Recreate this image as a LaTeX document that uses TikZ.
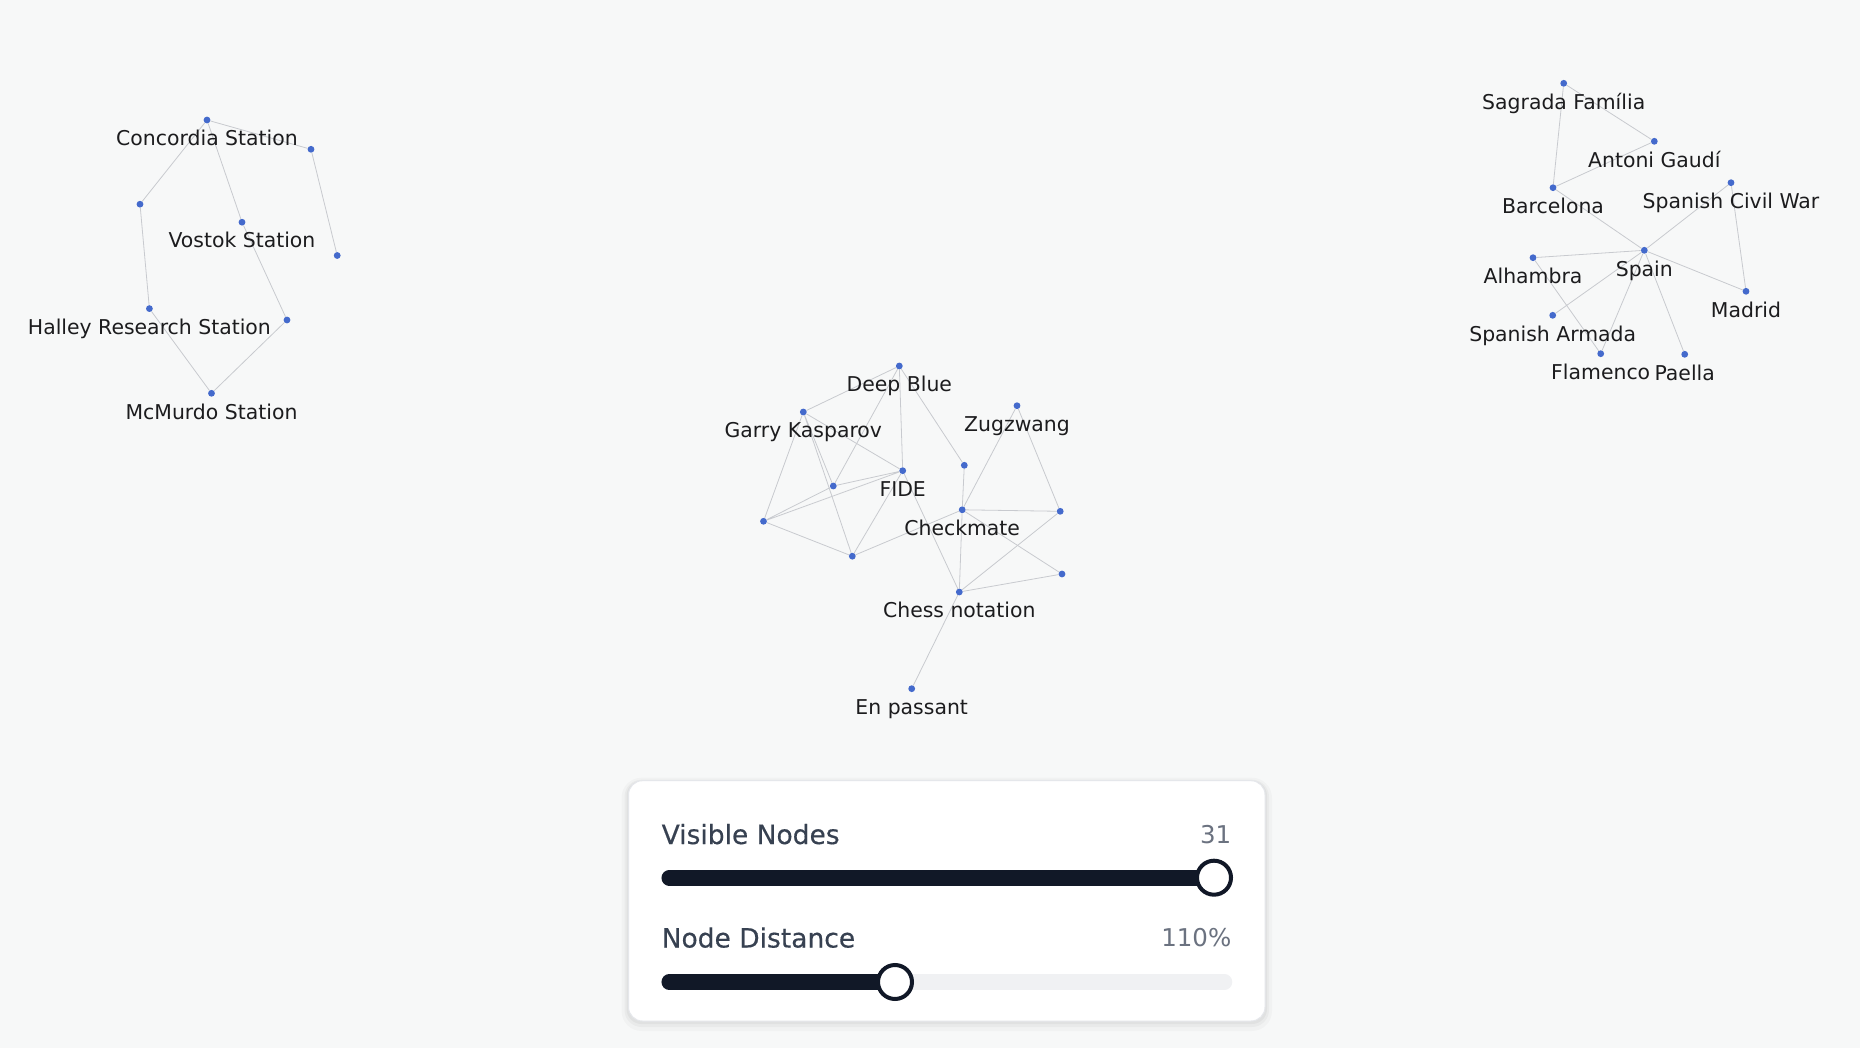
\documentclass[tikz,border=0pt]{standalone}
\usepackage{fontspec}
\setmainfont{DejaVu Sans}
\newfontfamily\panelfont[FakeBold=0.4]{DejaVu Sans}

\definecolor{pagebg}{RGB}{247,248,248}
\definecolor{dotblue}{RGB}{68,106,204}
\definecolor{edgegray}{RGB}{200,202,207}
\definecolor{labelblack}{RGB}{28,28,30}
\definecolor{panelline}{RGB}{229,231,235}
\definecolor{paneltext}{RGB}{55,65,81}
\definecolor{panelvalue}{RGB}{107,114,128}
\definecolor{trackdark}{RGB}{17,24,39}
\definecolor{tracklight}{RGB}{240,241,243}

\pgfdeclarelayer{bglayer}
\pgfdeclarelayer{edgelayer}
\pgfsetlayers{bglayer,edgelayer,main}

\tikzset{
  gdot/.style={circle, fill=dotblue, inner sep=0pt, minimum size=6.8pt, label distance=7pt},
  glabel/.style={text=labelblack, font=\fontsize{20.4}{24}\selectfont, inner sep=0pt, text height=22pt, text depth=5pt},
  gnode/.style={gdot, label={[glabel]below:#1}},
  link/.style={draw=edgegray, line width=0.8pt},
  paneltxt/.style={text=paneltext, font=\panelfont\fontsize{26.5}{30}\selectfont, inner sep=0pt},
  panelval/.style={text=panelvalue, font=\fontsize{24.5}{28}\selectfont, inner sep=0pt},
  trackon/.style={draw=trackdark, line width=15.5pt, line cap=round},
  trackoff/.style={draw=tracklight, line width=15.5pt, line cap=round},
  knob/.style={circle, draw=trackdark, fill=white, line width=4pt, minimum size=34pt, inner sep=0pt},
}

\begin{document}
\begin{tikzpicture}[x=1pt, y=-1pt]
    \useasboundingbox (0,0) rectangle (1860,1048);
    \begin{pgfonlayer}{bglayer}
        \fill[pagebg] (0,0) rectangle (1860,1048);
    \end{pgfonlayer}

    % Antarctic stations
    \node[gnode={Concordia Station}] (con) at (207,120) {};
    \node[gdot] (ant1) at (311,149.3) {};
    \node[gdot] (ant2) at (337.2,255.5) {};
    \node[gdot] (ant3) at (140,204.2) {};
    \node[gnode={Vostok Station}] (vos) at (242,222.2) {};
    \node[gnode={Halley Research Station}] (hal) at (149.4,308.6) {};
    \node[gdot] (ant4) at (287,320) {};
    \node[gnode={McMurdo Station}] (mcm) at (211.5,393.3) {};

    % Spain
    \node[gnode={Sagrada Família}] (sag) at (1563.7,83.3) {};
    \node[gnode={Antoni Gaudí}] (gau) at (1654.3,141.3) {};
    \node[gnode={Barcelona}] (bcn) at (1553,187.7) {};
    \node[gnode={Spanish Civil War}] (civ) at (1731,182.7) {};
    \node[gnode={Spain}] (spa) at (1644.3,250.3) {};
    \node[gnode={Alhambra}] (alh) at (1533,257.7) {};
    \node[gnode={Madrid}] (mad) at (1746,291.3) {};
    \node[gnode={Spanish Armada}] (arm) at (1552.7,315.3) {};
    \node[gnode={Flamenco}] (fla) at (1600.7,353.7) {};
    \node[gnode={Paella}] (pae) at (1684.7,354.3) {};

    % chess
    \node[gnode={Deep Blue}] (dbl) at (899.3,366) {};
    \node[gnode={Garry Kasparov}] (gka) at (803.3,412) {};
    \node[gnode={Zugzwang}] (zug) at (1017,405.7) {};
    \node[gnode={FIDE}] (fid) at (902.7,470.7) {};
    \node[gdot] (chs1) at (833.3,486) {};
    \node[gdot] (chs2) at (964.3,465.3) {};
    \node[gdot] (chs3) at (763.5,521.3) {};
    \node[gnode={Checkmate}] (chk) at (962.2,509.8) {};
    \node[gdot] (chs4) at (1060.2,511.3) {};
    \node[gdot] (chs5) at (852.3,556.2) {};
    \node[gdot] (chs6) at (1062,574) {};
    \node[gnode={Chess notation}] (cno) at (959.3,592) {};
    \node[gnode={En passant}] (enp) at (911.7,688.7) {};

    \begin{pgfonlayer}{edgelayer}
        \draw[link] (con) -- (ant1) (ant1) -- (ant2) (con) -- (ant3) (ant3) -- (hal);
        \draw[link] (con) -- (vos) (vos) -- (ant4) (ant4) -- (mcm) (hal) -- (mcm);

        \draw[link] (sag) -- (gau) (sag) -- (bcn) (gau) -- (bcn) (bcn) -- (spa);
        \draw[link] (spa) -- (civ) (civ) -- (mad) (spa) -- (mad) (spa) -- (alh);
        \draw[link] (alh) -- (fla) (spa) -- (arm) (spa) -- (fla) (spa) -- (pae);

        \draw[link] (dbl) -- (gka) (dbl) -- (chs1) (dbl) -- (fid) (dbl) -- (chs2);
        \draw[link] (gka) -- (fid) (gka) -- (chs3) (gka) -- (chs1) (gka) -- (chs5);
        \draw[link] (chs1) -- (fid) (chs3) -- (chs1) (chs3) -- (fid) (chs3) -- (chs5);
        \draw[link] (chs5) -- (fid) (chs5) -- (chk) (fid) -- (cno) (chs2) -- (chk);
        \draw[link] (zug) -- (chk) (zug) -- (chs4) (chk) -- (chs4) (chk) -- (chs6);
        \draw[link] (chk) -- (cno) (chs4) -- (cno) (chs6) -- (cno) (cno) -- (enp);
    \end{pgfonlayer}

    % control panel
    \fill[black, opacity=0.025, rounded corners=20pt] (621.5,777.7) rectangle (1272,1031);
    \fill[black, opacity=0.03, rounded corners=17pt] (624.5,779.7) rectangle (1269,1027);
    \fill[black, opacity=0.035, rounded corners=15pt] (626.5,780.7) rectangle (1267,1024);
    \draw[panelline, fill=white, line width=1pt, rounded corners=14pt] (628.5,780.7) rectangle (1265,1021);

    \node[paneltxt, anchor=base west] (vislab) at (661.5,844) {Visible Nodes};
    \node[panelval, anchor=base east] (visval) at (1231.5,843.5) {31};
    \coordinate (visL) at (669.2,877.8);
    \coordinate (visR) at (1224.5,877.8);
    \draw[trackon] (visL) -- (visR);
    \node[knob] (visknob) at (1214,877.7) {};

    \node[paneltxt, anchor=base west] (distlab) at (661.5,947.5) {Node Distance};
    \node[panelval, anchor=base east] (distval) at (1231.5,946.7) {110\%};
    \coordinate (distL) at (669.2,982);
    \coordinate (distR) at (1224.5,982);
    \draw[trackoff] (distL) -- (distR);
    \draw[trackon] (distL) -- (895,982) node[knob] (distknob) {};
\end{tikzpicture}
\end{document}
